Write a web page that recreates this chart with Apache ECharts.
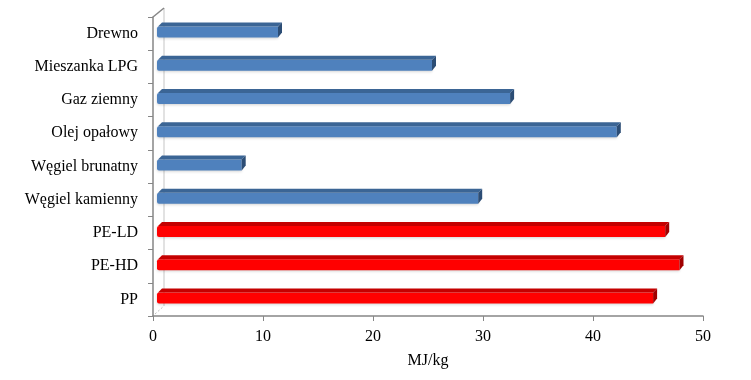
<!DOCTYPE html>
<html><head><meta charset="utf-8">
<script src="https://cdn.jsdelivr.net/npm/echarts@6/dist/echarts.min.js"></script>
<style>html,body{margin:0;padding:0;background:#fff}#c{width:751px;height:380px}</style>
</head><body><div id="c"></div>
<script>
const categories = ['Drewno','Mieszanka LPG','Gaz ziemny','Olej opałowy','Węgiel brunatny','Węgiel kamienny','PE-LD','PE-HD','PP'];
const fuelValues = [11.0, 25.0, 32.1, 41.8, 7.7, 29.2, null, null, null];
const plasticValues = [null, null, null, null, null, null, 46.2, 47.5, 45.1];
const xMin = 0, xMax = 50, xStep = 10;
const axisName = 'MJ/kg';

const FONT = '"Liberation Serif", "Times New Roman", serif';
const DEPTH = 4, SHIFT = 4, BAR_H = 11;

function toData(vals){
  return vals.map((v,i)=> v==null ? null : [v, i]).filter(d=>d);
}
function makeRender(front, top, side){
  return function(params, api){
    const v = api.value(0), idx = api.value(1);
    const p0 = api.coord([0, idx]);
    const p1 = api.coord([v, idx]);
    const x0 = p0[0] + SHIFT, x1 = p1[0] + SHIFT;
    const yc = p0[1] - 1.5;
    const yt = yc - BAR_H/2, yb = yc + BAR_H/2;
    return {type:'group', children:[
      {type:'rect', shape:{x:x0, y:yt, width:x1-x0, height:BAR_H, r:[2,0,0,2]},
       style:{fill:front, shadowBlur:3, shadowColor:'rgba(0,0,0,0.18)', shadowOffsetY:1}},
      {type:'polygon', shape:{points:[[x0+1,yt],[x0+1+DEPTH,yt-DEPTH],[x1+DEPTH,yt-DEPTH],[x1,yt]]},
       style:{fill:top}},
      {type:'polygon', shape:{points:[[x1,yt],[x1+DEPTH,yt-DEPTH],[x1+DEPTH,yb-DEPTH-1],[x1,yb]]},
       style:{fill:side}}
    ]};
  };
}

const chart = echarts.init(document.getElementById('c'), null, {renderer:'canvas'});
chart.setOption({
  animation:false,
  backgroundColor:'#ffffff',
  grid:{left:153, right:48, top:17, bottom:64, containLabel:false},
  xAxis:{type:'value', min:xMin, max:xMax, interval:xStep,
    name:axisName, nameLocation:'middle', nameGap:37,
    nameTextStyle:{fontFamily:FONT, fontSize:16, color:'#000'},
    axisLine:{show:true, lineStyle:{color:'#868686', width:1.5}},
    axisTick:{show:true, length:5, lineStyle:{color:'#868686'}},
    axisLabel:{fontFamily:FONT, fontSize:16, color:'#000', margin:13},
    splitLine:{show:false}},
  yAxis:{type:'category', data:categories, inverse:true,
    axisLine:{show:true, lineStyle:{color:'#868686', width:1.5}},
    axisTick:{show:true, length:5, lineStyle:{color:'#868686'}},
    axisLabel:{fontFamily:FONT, fontSize:16, color:'#000', margin:15, padding:[6,0,0,0]},
    splitLine:{show:false}},
  series:[
    {type:'custom', name:'fuels', renderItem:makeRender('#4F81BD','#3B6595','#2C4D75'),
      encode:{x:0, y:1}, data:toData(fuelValues), z:3},
    {type:'custom', name:'plastics', renderItem:makeRender('#FF0000','#C40000','#A00000'),
      encode:{x:0, y:1}, data:toData(plasticValues), z:3}
  ]
});

// back wall / floor edges of the 3D frame
const gridRect = chart.getModel().getComponent('grid').coordinateSystem.getRect();
const gx = gridRect.x, gy = gridRect.y, gb = gridRect.y + gridRect.height;
const D = 10;
chart.setOption({graphic:[
  {type:'line', shape:{x1:gx+D+1, y1:gy-D+1, x2:gx+D+1, y2:gb-D}, style:{stroke:'#d9d9d9', lineWidth:1.5}, z:1},
  {type:'line', shape:{x1:gx, y1:gy, x2:gx+D+1, y2:gy-D+1}, style:{stroke:'#868686', lineWidth:1.5}, z:2},
  {type:'line', shape:{x1:gx+2, y1:gb-2, x2:gx+D+1, y2:gb-D}, style:{stroke:'#bfbfbf', lineWidth:1, lineDash:[2,2]}, z:1}
]});
</script>
</body></html>
